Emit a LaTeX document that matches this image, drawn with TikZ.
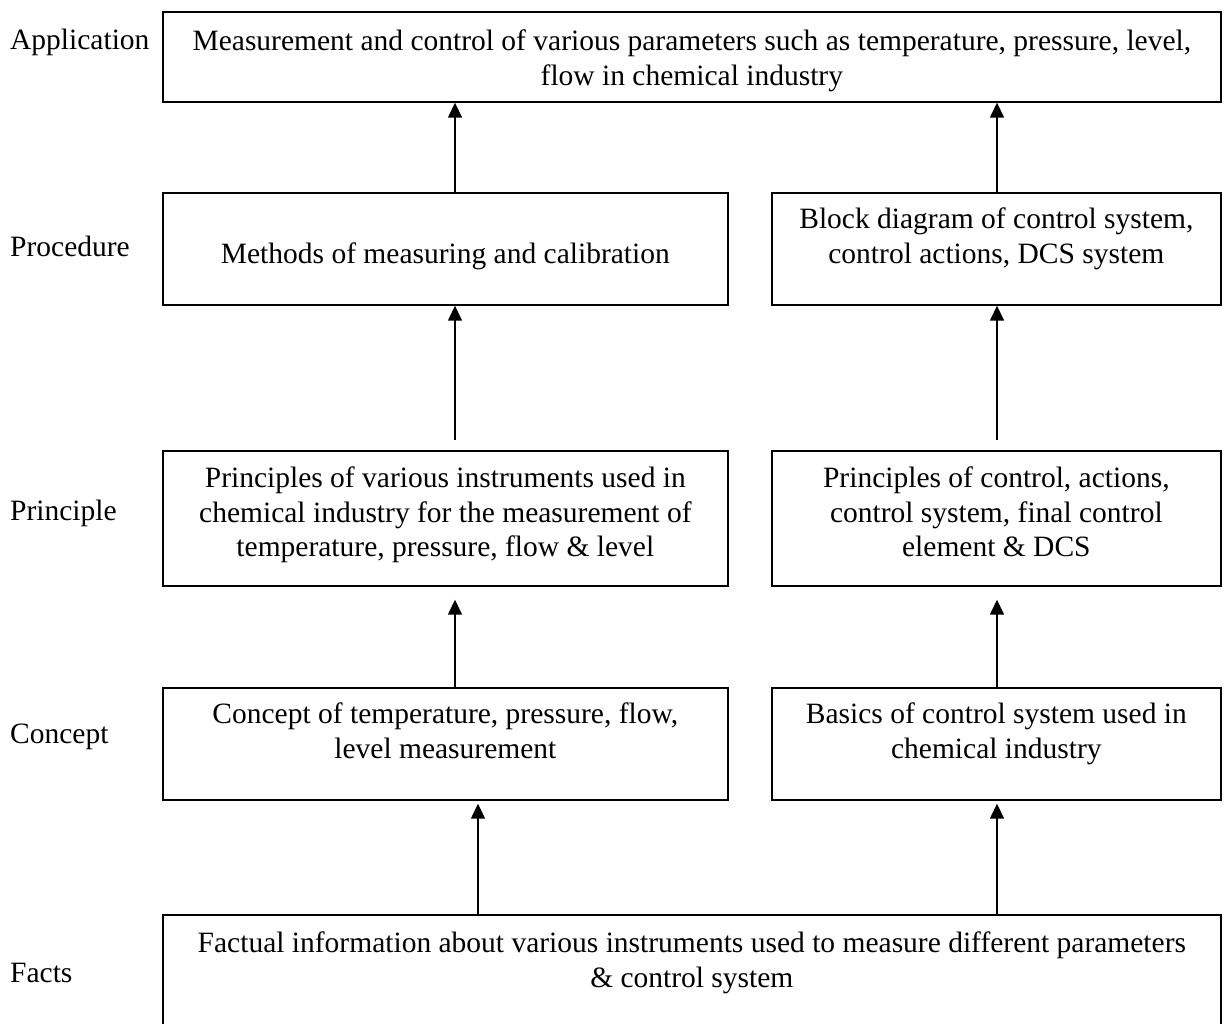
\documentclass[tikz,border=0pt]{standalone}
\usepackage{fontspec}
\setmainfont{Liberation Serif}
\usetikzlibrary{arrows.meta}

\tikzset{
  box/.style={draw, line width=1.7pt, inner sep=0pt, anchor=north west},
  txt/.style={align=center, anchor=north, inner sep=0pt, font=\fontsize{29.5}{34.5}\selectfont},
  lvl/.style={anchor=base west, inner sep=0pt, font=\fontsize{29.5}{34.5}\selectfont},
  up/.style={-{Triangle[length=15pt,width=14pt]}, line width=1.5pt},
}

\begin{document}
\begin{tikzpicture}[x=1pt, y=-1pt]
\useasboundingbox (0,0) rectangle (1225,1024);

% levels
\node[lvl] (lApp) at (10,50)  {Application};
\node[lvl] (lPro) at (10,257) {Procedure};
\node[lvl] (lPri) at (10,520) {Principle};
\node[lvl] (lCon) at (10,743) {Concept};
\node[lvl] (lFac) at (10,982) {Facts};

% boxes
\node[box, minimum width=1058pt, minimum height=90pt]  (app)   at (162,11)  {};
\node[box, minimum width=565pt,  minimum height=112pt] (proL)  at (162,192) {};
\node[box, minimum width=449pt,  minimum height=112pt] (proR)  at (771,192) {};
\node[box, minimum width=565pt,  minimum height=135pt] (priL)  at (162,450) {};
\node[box, minimum width=449pt,  minimum height=135pt] (priR)  at (771,450) {};
\node[box, minimum width=565pt,  minimum height=112pt] (conL)  at (162,687) {};
\node[box, minimum width=449pt,  minimum height=112pt] (conR)  at (771,687) {};
\node[box, minimum width=1058pt, minimum height=140pt] (facts) at (162,914) {};

% texts
\node[txt] (tApp) at ([yshift=-19pt]app.north)
  {Measurement and control of various parameters such as temperature, pressure, level,\\flow in chemical industry};
\node[txt] (tProL) at ([yshift=-51pt]proL.north) {Methods of measuring and calibration};
\node[txt] (tProR) at ([yshift=-16pt]proR.north)
  {Block diagram of control system,\\control actions, DCS system};
\node[txt] (tPriL) at ([yshift=-17pt]priL.north)
  {Principles of various instruments used in\\chemical industry for the measurement of\\temperature, pressure, flow \& level};
\node[txt] (tPriR) at ([yshift=-17pt]priR.north)
  {Principles of control, actions,\\control system, final control\\element \& DCS};
\node[txt] (tConL) at ([yshift=-16pt]conL.north)
  {Concept of temperature, pressure, flow,\\level measurement};
\node[txt] (tConR) at ([yshift=-16pt]conR.north)
  {Basics of control system used in\\chemical industry};
\node[txt] (tFac) at ([yshift=-18pt]facts.north)
  {Factual information about various instruments used to measure different parameters\\\& control system};

% arrows
\coordinate (cL) at (455,0);
\coordinate (cR) at (997,0);
\coordinate (cF) at (478,0);
\draw[up] (proL.north -| cL) -- (app.south -| cL);
\draw[up] (proR.north -| cR) -- (app.south -| cR);
\draw[up, shorten <=10pt] (priL.north -| cL) -- (proL.south -| cL);
\draw[up, shorten <=10pt] (priR.north -| cR) -- (proR.south -| cR);
\draw[up, shorten >=13pt] (conL.north -| cL) -- (priL.south -| cL);
\draw[up, shorten >=13pt] (conR.north -| cR) -- (priR.south -| cR);
\draw[up, shorten >=3pt] (facts.north -| cF) -- (conL.south -| cF);
\draw[up, shorten >=3pt] (facts.north -| cR) -- (conR.south -| cR);
\end{tikzpicture}
\end{document}
